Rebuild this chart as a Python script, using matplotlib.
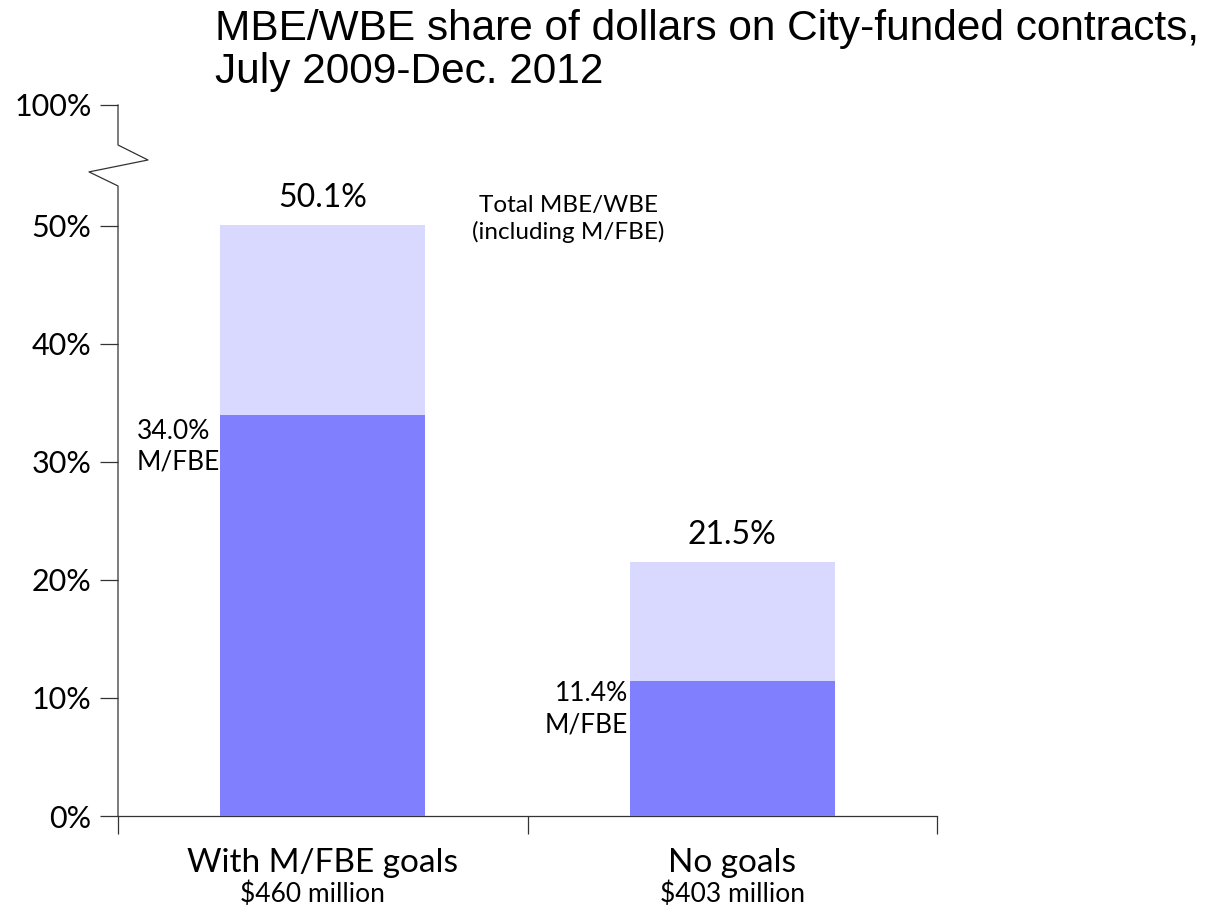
import matplotlib
matplotlib.use("Agg")
import matplotlib.pyplot as plt
import matplotlib.transforms as mtransforms

# Data
categories = ["With M/FBE goals", "No goals"]
dollar_labels = ["$460 million", "$403 million"]
mfbe_share = [34.0, 11.4]      # M/FBE part (%)
total_share = [50.1, 21.5]     # total MBE/WBE (%)
ytick_values = [0, 10, 20, 30, 40, 50]
top_value = 60.25              # where the broken axis shows "100%"
title_lines = ["MBE/WBE share of dollars on City-funded contracts,",
               "July 2009-Dec. 2012"]

DARK = "#8080FF"
LIGHT = "#D9D9FF"
FONT = "Lato"

fig = plt.figure(figsize=(12.17, 9.16), dpi=100)
ax = fig.add_axes([118 / 1217, 100 / 916, 819 / 1217, 711 / 916])

x = [0.5, 1.5]
upper = [t - m for t, m in zip(total_share, mfbe_share)]
ax.bar(x, mfbe_share, width=0.5, color=DARK, zorder=3)
ax.bar(x, upper, width=0.5, bottom=mfbe_share, color=LIGHT, zorder=3)

ax.set_xlim(0, 2)
ax.set_ylim(0, top_value)

# y ticks including the "100%" above the break
ax.set_yticks(ytick_values + [top_value])
ax.set_yticklabels([f"{v}%" for v in ytick_values] + ["100%"],
                   fontsize=22, fontfamily=FONT)
ax.set_xticks([0, 1, 2])
ax.set_xticklabels([])
ax.tick_params(axis="both", direction="out", length=13, width=0.9,
               color="#333333", pad=6)

for s in ["top", "right", "left"]:
    ax.spines[s].set_visible(False)
ax.spines["bottom"].set_linewidth(0.9)
ax.spines["bottom"].set_color("#333333")

# left spine with a zigzag break
trans = mtransforms.blended_transform_factory(ax.transAxes, ax.transData)
bx = [0, 0, 0.0366, -0.0354, 0, 0]
by = [top_value, 56.86, 55.59, 54.58, 53.39, 0]
ax.plot(bx, by, color="#333333", lw=0.9, transform=trans, clip_on=False, zorder=4)

# value labels
ax.text(x[0], total_share[0] + 1.0, f"{total_share[0]:.1f}%", ha="center",
        va="bottom", fontsize=23, fontfamily=FONT)
ax.text(x[1], total_share[1] + 1.05, f"{total_share[1]:.1f}%", ha="center",
        va="bottom", fontsize=23, fontfamily=FONT)
ax.text(1.1, 50.6, "Total MBE/WBE\n(including M/FBE)", ha="center",
        va="center", fontsize=17.5, fontfamily=FONT, linespacing=1.25)
ax.text(0.046, 31.3, f"{mfbe_share[0]:.1f}%\nM/FBE", ha="left", va="center",
        fontsize=19, fontfamily=FONT, linespacing=1.3, zorder=2)
ax.text(1.245, 9.05, f"{mfbe_share[1]:.1f}%\nM/FBE", ha="right", va="center",
        fontsize=19, fontfamily=FONT, linespacing=1.3, zorder=2)

# category labels below the axis
for xi, cat, dol, shift in zip(x, categories, dollar_labels, [-0.025, 0.0]):
    ax.text(xi, -4.0, cat, ha="center", va="center",
            fontsize=24, fontfamily=FONT)
    ax.text(xi + shift, -6.65, dol, ha="center", va="center",
            fontsize=19, fontfamily=FONT)

# two-line title, each line placed on its own baseline
for line, base_px in zip(title_lines, [40, 83]):
    fig.text(215 / 1217, 1 - base_px / 916, line, ha="left", va="baseline",
             fontsize=30.5, fontfamily="Liberation Sans")

fig.savefig("out.png", dpi=100)
